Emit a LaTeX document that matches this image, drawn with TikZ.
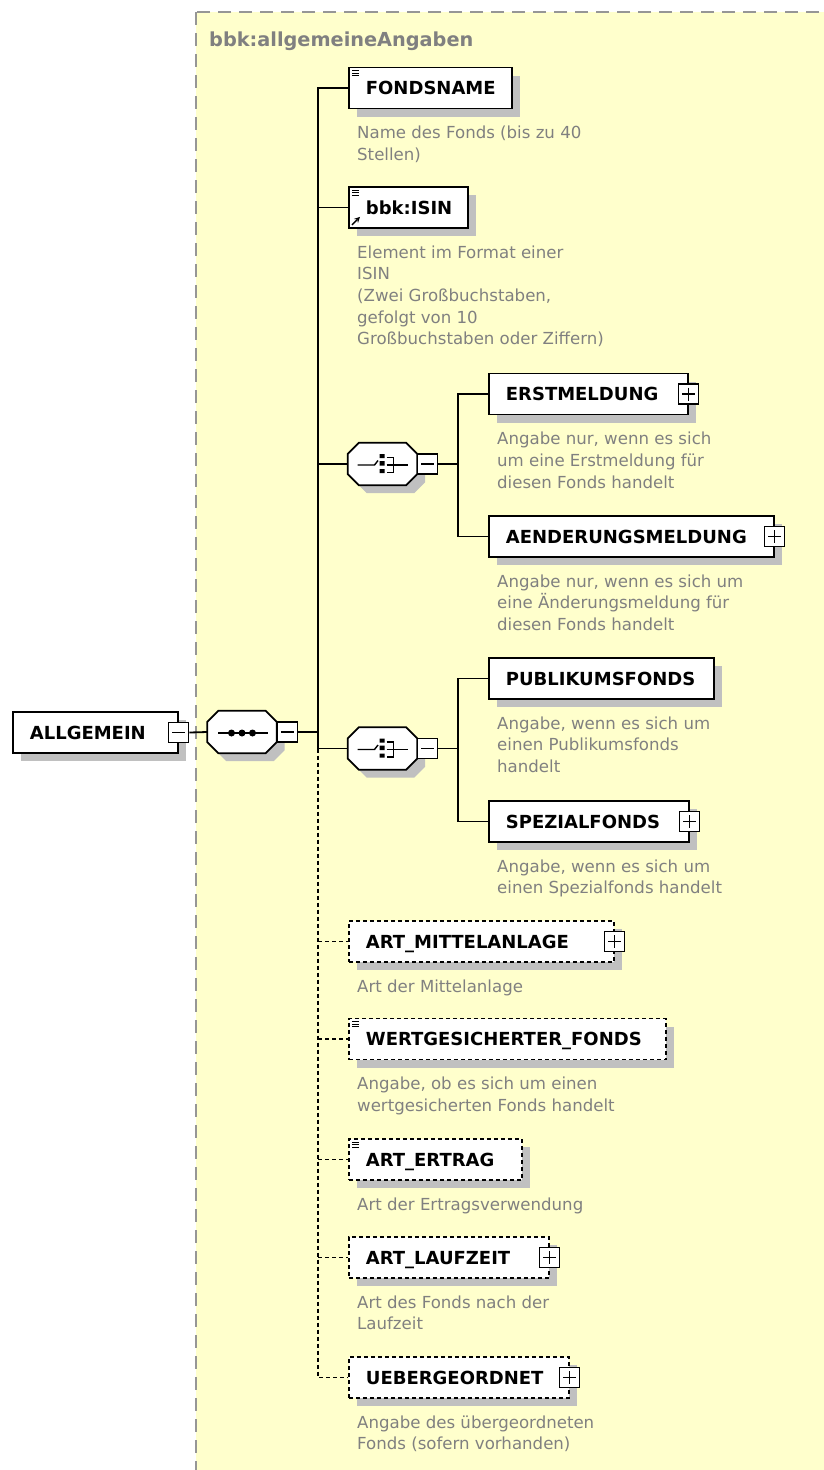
\documentclass[tikz,border=0pt]{standalone}
\usepackage{fontspec}
\setmainfont{DejaVu Sans}
\usetikzlibrary{shadows}
\definecolor{xsdyellow}{RGB}{255,255,204}
\definecolor{xsdgray}{RGB}{128,128,128}
\definecolor{xsdshadow}{RGB}{192,192,192}
\definecolor{xsdframe}{RGB}{150,150,150}
\hyphenpenalty=10000
% octagon round a group node: #1 node, #2 x offset, #3 y offset
\newcommand\octpath[3]{([xshift=#2+11pt,yshift=#3]#1.north west) -- ([xshift=#2-11pt,yshift=#3]#1.north east)
	-- ([xshift=#2,yshift=#3-11pt]#1.north east) -- ([xshift=#2,yshift=#3+11pt]#1.south east)
	-- ([xshift=#2-11pt,yshift=#3]#1.south east) -- ([xshift=#2+11pt,yshift=#3]#1.south west)
	-- ([xshift=#2,yshift=#3+11pt]#1.south west) -- ([xshift=#2,yshift=#3-11pt]#1.north west) -- cycle}
\begin{document}
\begin{tikzpicture}[>=stealth,x=1pt,y=-1pt,
	conn/.style={line width=1.8pt},
	opt/.style={line width=1.8pt,dash pattern=on 4pt off 3pt},
	shadowed/.style={drop shadow={shadow xshift=8pt,shadow yshift=-8pt,fill=xsdshadow,opacity=1}},
	elem/.style={draw,fill=white,line width=1.8pt,shadowed,anchor=west,minimum height=41pt,
		inner xsep=17pt,inner ysep=0pt,text width=#1,align=left,text height=13pt,text depth=0pt,
		font=\bfseries\fontsize{18}{22}\selectfont},
	optelem/.style={elem=#1,dash pattern=on 4pt off 3pt},
	desc/.style={anchor=north west,inner sep=0pt,align=left,text=xsdgray,
		font=\fontsize{16.6}{21.7}\selectfont},
	grp/.style={minimum width=69pt,minimum height=42pt,inner sep=0pt},
	octo/.style={draw,fill=white,line width=1.8pt},
	plusbox/.style={draw,fill=white,line width=1.2pt,minimum size=20pt,inner sep=0pt,
		path picture={\draw[line width=1.2pt]
			([xshift=3.5pt]path picture bounding box.west) -- ([xshift=-3.5pt]path picture bounding box.east)
			([yshift=-3.5pt]path picture bounding box.north) -- ([yshift=3.5pt]path picture bounding box.south);}},
	minusbox/.style={draw,fill=white,line width=1.2pt,minimum size=20pt,inner sep=0pt,
		path picture={\draw[line width=1.2pt]
			([xshift=3.5pt]path picture bounding box.west) -- ([xshift=-3.5pt]path picture bounding box.east);}}]
	\useasboundingbox (0,0) rectangle (823,1470);
	% group frame
	\draw[fill=xsdyellow,draw=xsdframe,line width=2pt,dash pattern=on 13pt off 8pt] (196,12) rectangle (900,1520);
	\node[anchor=base west,inner sep=0pt,text=xsdgray,font=\bfseries\fontsize{19.3}{23}\selectfont] (title) at (209,46) {bbk:allgemeineAngaben};
	% sequence and choices
	\node[grp] (seq) at (242,732) {};
	\node[grp] (ch1) at (382.5,464) {};
	\node[grp] (ch2) at (382.5,748.5) {};
	\foreach \g in {seq,ch1,ch2}{
		\fill[xsdshadow] \octpath{\g}{8pt}{-8pt};
		\draw[octo] \octpath{\g}{0pt}{0pt};
	}
	\node[minusbox,anchor=west] (seqm) at (seq.east) {};
	\node[minusbox,anchor=west] (ch1m) at (ch1.east) {};
	\node[minusbox,anchor=west] (ch2m) at (ch2.east) {};
	% root
	\node[elem=131pt] (allg) at (12,732.5) {ALLGEMEIN};
	\node[minusbox] (allgm) at (allg.east) {};
	% children
	\node[elem=129pt] (fonds) at (348,88) {FONDSNAME};
	\node[elem=85pt] (isin) at (348,207.5) {bbk:ISIN};
	\node[elem=165pt] (erst) at (488,394) {ERSTMELDUNG};
	\node[plusbox] (erstp) at (erst.east) {};
	\node[elem=251pt] (aender) at (488,536.5) {AENDERUNGSMELDUNG};
	\node[plusbox] (aenderp) at (aender.east) {};
	\node[elem=191pt] (publ) at (488,678.5) {PUBLIKUMSFONDS};
	\node[elem=166pt] (spez) at (488,821.5) {SPEZIALFONDS};
	\node[plusbox] (spezp) at (spez.east) {};
	\node[optelem=231pt] (mittel) at (348,941.5) {ART\_MITTELANLAGE};
	\node[plusbox] (mittelp) at (mittel.east) {};
	\node[optelem=283pt] (wert) at (348,1039) {WERTGESICHERTER\_FONDS};
	\node[optelem=139pt] (ertrag) at (348,1159.5) {ART\_ERTRAG};
	\node[optelem=166pt] (laufzeit) at (348,1257.5) {ART\_LAUFZEIT};
	\node[plusbox] (laufzeitp) at (laufzeit.east) {};
	\node[optelem=186pt] (ueber) at (348,1377.5) {UEBERGEORDNET};
	\node[plusbox] (ueberp) at (ueber.east) {};
	% descriptions
	\node[desc] (fondsd) at ([xshift=9pt,yshift=-16.4pt]fonds.south west) {Name des Fonds (bis zu 40\\Stellen)};
	\node[desc] (isind) at ([xshift=9pt,yshift=-16.4pt]isin.south west) {Element im Format einer\\ISIN\\(Zwei Großbuchstaben,\\gefolgt von 10\\Großbuchstaben oder Ziffern)};
	\node[desc] (erstd) at ([xshift=9pt,yshift=-16.4pt]erst.south west) {Angabe nur, wenn es sich\\um eine Erstmeldung für\\diesen Fonds handelt};
	\node[desc] (aenderd) at ([xshift=9pt,yshift=-16.4pt]aender.south west) {Angabe nur, wenn es sich um\\eine Änderungsmeldung für\\diesen Fonds handelt};
	\node[desc] (publd) at ([xshift=9pt,yshift=-16.4pt]publ.south west) {Angabe, wenn es sich um\\einen Publikumsfonds\\handelt};
	\node[desc] (spezd) at ([xshift=9pt,yshift=-16.4pt]spez.south west) {Angabe, wenn es sich um\\einen Spezialfonds handelt};
	\node[desc] (mitteld) at ([xshift=9pt,yshift=-16.4pt]mittel.south west) {Art der Mittelanlage};
	\node[desc] (wertd) at ([xshift=9pt,yshift=-16.4pt]wert.south west) {Angabe, ob es sich um einen\\wertgesicherten Fonds handelt};
	\node[desc] (ertragd) at ([xshift=9pt,yshift=-16.4pt]ertrag.south west) {Art der Ertragsverwendung};
	\node[desc] (laufzeitd) at ([xshift=9pt,yshift=-16.4pt]laufzeit.south west) {Art des Fonds nach der\\Laufzeit};
	\node[desc] (ueberd) at ([xshift=9pt,yshift=-16.4pt]ueber.south west) {Angabe des übergeordneten\\Fonds (sofern vorhanden)};
	% connectors
	\coordinate (tr) at (318,0);
	\coordinate (br) at (458,0);
	\draw[conn] (allgm.east) -- (seq.west);
	\draw[conn] (seqm.east) -- (seqm.east -| tr);
	\draw[conn] (fonds.west) -- (fonds.west -| tr) -- (ch2.west -| tr) -- (ch2.west);
	\draw[conn] (isin.west) -- (isin.west -| tr);
	\draw[conn] (ch1.west) -- (ch1.west -| tr);
	\draw[opt] (ch2.west -| tr) -- (ueber.west -| tr) -- (ueber.west);
	\foreach \n in {mittel,wert,ertrag,laufzeit}
		\draw[opt] (\n.west -| tr) -- (\n.west);
	\draw[conn] (ch1m.east) -- (ch1m.east -| br);
	\draw[conn] (erst.west) -- (erst.west -| br) -- (aender.west -| br) -- (aender.west);
	\draw[conn] (ch2m.east) -- (ch2m.east -| br);
	\draw[conn] (publ.west) -- (publ.west -| br) -- (spez.west -| br) -- (spez.west);
	% icons
	\foreach \c in {ch1,ch2}{
		\begin{scope}[shift={(\c.center)}]
			\draw[line width=1.4pt] (-25,1) -- (-8,1) -- (-4.5,-3.5);
			\fill (-3,-10) rectangle (2,-6) (-3,-3) rectangle (2,1.5) (-3,5) rectangle (2,9);
			\draw[line width=1.4pt] (4,-6.5) -- (11,-6.5) -- (11,8.5) -- (4,8.5) (4,1) -- (25,1);
		\end{scope}}
	\begin{scope}[shift={(seq.center)}]
		\draw[line width=1.4pt] (-24,1) -- (26,1);
		\foreach \d in {-10.5,0,10.5}
			\fill (\d,1) circle (3.5);
	\end{scope}
	\foreach \n in {fonds,isin,wert,ertrag}
		\foreach \d in {4,6.5,9}
			\draw[line width=0.9pt] ([xshift=4pt,yshift=-\d pt]\n.north west) -- ++(7,0);
	\draw[->,line width=1.5pt] ([xshift=4pt,yshift=4pt]isin.south west) -- ++(8,-8);
\end{tikzpicture}
\end{document}
